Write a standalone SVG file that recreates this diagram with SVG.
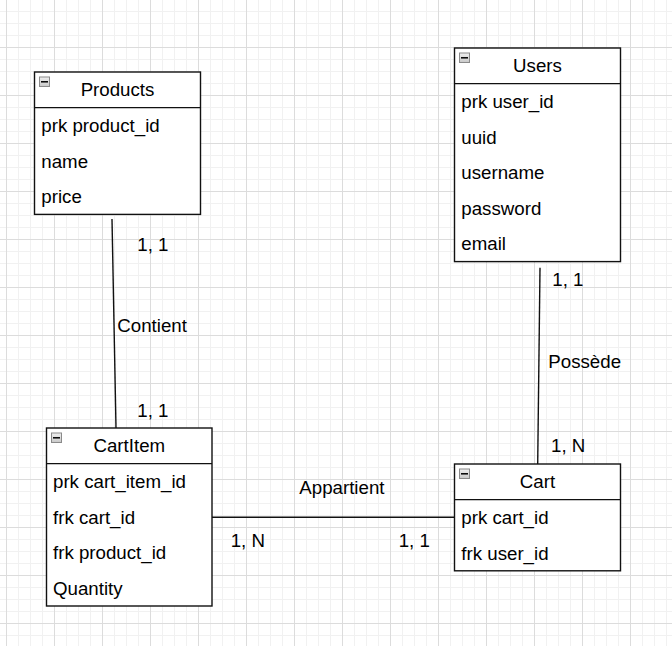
<svg xmlns="http://www.w3.org/2000/svg" width="672" height="646" viewBox="0 0 672 646">
  <defs>
    <pattern id="grid" x="6" y="-1" width="48" height="48" patternUnits="userSpaceOnUse">
      <rect x="12" y="0" width="1" height="48" fill="#f1f1f1"/>
      <rect x="24" y="0" width="1" height="48" fill="#f1f1f1"/>
      <rect x="36" y="0" width="1" height="48" fill="#f1f1f1"/>
      <rect x="0" y="12" width="48" height="1" fill="#f1f1f1"/>
      <rect x="0" y="24" width="48" height="1" fill="#f1f1f1"/>
      <rect x="0" y="36" width="48" height="1" fill="#f1f1f1"/>
      <rect x="0" y="0" width="1" height="48" fill="#dcdcdc"/>
      <rect x="0" y="0" width="48" height="1" fill="#dcdcdc"/>
    </pattern>
    <linearGradient id="icoGrad" x1="0" y1="0" x2="0" y2="1">
      <stop offset="0" stop-color="#f0f0f0"/>
      <stop offset="1" stop-color="#c8c8c8"/>
    </linearGradient>
    <g id="icon">
      <rect x="0.5" y="0.5" width="10" height="9.5" fill="url(#icoGrad)" stroke="#8a8a8a" stroke-width="1"/>
      <line x1="2" y1="5.3" x2="9" y2="5.3" stroke="#000" stroke-width="1.5"/>
    </g>
  </defs>
  <style>
    .box { fill: #ffffff; stroke: #111; stroke-width: 1.4; }
    .sep { stroke: #111; stroke-width: 1.4; }
    .t { font-family: "Liberation Sans", Arial, sans-serif; font-size: 18.7px; fill: #000; }
    .title { text-anchor: middle; }
    .edge { stroke: #111; stroke-width: 1.4; fill: none; }
  </style>
  <rect x="0" y="0" width="672" height="646" fill="#ffffff"/>
  <rect x="0" y="0" width="672" height="646" fill="url(#grid)"/>

  <g id="connectors">
    <line class="edge" x1="112" y1="219" x2="116" y2="428"/>
    <line class="edge" x1="212" y1="517.3" x2="454.5" y2="517.3"/>
    <line class="edge" x1="540" y1="267.7" x2="537.7" y2="464"/>
    <text class="t" x="137.3" y="251">1, 1</text>
    <text class="t" x="117.3" y="332.3">Contient</text>
    <text class="t" x="137.3" y="416.7">1, 1</text>
    <text class="t" x="299.3" y="494">Appartient</text>
    <text class="t" x="230.7" y="546.7">1, N</text>
    <text class="t" x="398.7" y="546.7">1, 1</text>
    <text class="t" x="552.3" y="285.7">1, 1</text>
    <text class="t" x="548.3" y="368.3">Possède</text>
    <text class="t" x="551" y="451.7">1, N</text>
  </g>

  <g id="products">
    <rect class="box" x="34.5" y="72" width="166" height="142.4"/>
    <line class="sep" x1="34.5" y1="107.6" x2="200.5" y2="107.6"/>
    <use href="#icon" x="39" y="76.5"/>
    <text class="t title" x="117.5" y="96.4">Products</text>
    <text class="t" x="41.3" y="132">prk product_id</text>
    <text class="t" x="41.3" y="167.6">name</text>
    <text class="t" x="41.3" y="203.2">price</text>
  </g>

  <g id="users">
    <rect class="box" x="454.5" y="48" width="166" height="213.6"/>
    <line class="sep" x1="454.5" y1="83.6" x2="620.5" y2="83.6"/>
    <use href="#icon" x="459" y="52.5"/>
    <text class="t title" x="537.5" y="72.4">Users</text>
    <text class="t" x="461.3" y="108">prk user_id</text>
    <text class="t" x="461.3" y="143.6">uuid</text>
    <text class="t" x="461.3" y="179.2">username</text>
    <text class="t" x="461.3" y="214.8">password</text>
    <text class="t" x="461.3" y="250.4">email</text>
  </g>

  <g id="cartitem">
    <rect class="box" x="46.5" y="428" width="165.5" height="178"/>
    <line class="sep" x1="46.5" y1="463.6" x2="212" y2="463.6"/>
    <use href="#icon" x="51" y="432.5"/>
    <text class="t title" x="129.3" y="452.4">CartItem</text>
    <text class="t" x="53" y="488">prk cart_item_id</text>
    <text class="t" x="53" y="523.6">frk cart_id</text>
    <text class="t" x="53" y="559.2">frk product_id</text>
    <text class="t" x="53" y="594.8">Quantity</text>
  </g>

  <g id="cart">
    <rect class="box" x="454.5" y="464" width="166" height="106.8"/>
    <line class="sep" x1="454.5" y1="499.6" x2="620.5" y2="499.6"/>
    <use href="#icon" x="459" y="468.5"/>
    <text class="t title" x="537.5" y="488.4">Cart</text>
    <text class="t" x="461.3" y="524">prk cart_id</text>
    <text class="t" x="461.3" y="559.6">frk user_id</text>
  </g>
</svg>
